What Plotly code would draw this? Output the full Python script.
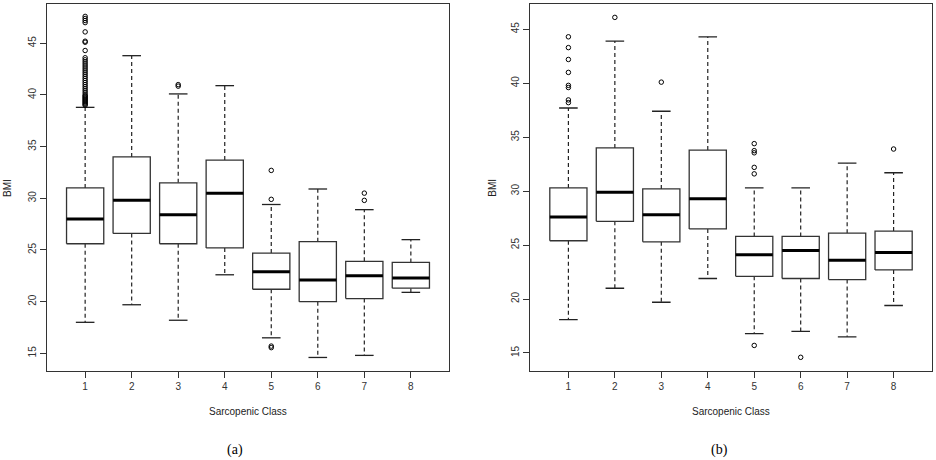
import plotly.graph_objects as go

classes = [1, 2, 3, 4, 5, 6, 7, 8]

# Panel (a)
a_lower = [18.0, 19.7, 18.2, 22.6, 16.5, 14.6, 14.8, 20.9]
a_q1 = [25.6, 26.6, 25.6, 25.2, 21.2, 20.0, 20.3, 21.3]
a_median = [28.0, 29.8, 28.4, 30.5, 22.9, 22.1, 22.5, 22.3]
a_q3 = [31.0, 34.0, 31.5, 33.7, 24.7, 25.8, 23.9, 23.8]
a_upper = [38.8, 43.8, 40.1, 40.9, 29.4, 30.9, 28.9, 26.0]
a_outliers = [
    [47.6, 47.4, 47.2, 47.0, 46.1, 45.2, 45.1, 44.3, 43.6, 43.4, 43.2, 43.0, 42.8,
     42.6, 42.4, 42.2, 42.0, 41.8, 41.6, 41.4, 41.2, 41.0, 40.8, 40.6, 40.4, 40.2,
     40.0, 39.9, 39.8, 39.7, 39.6, 39.5, 39.4, 39.3, 39.2, 39.1, 39.0],
    [],
    [41.0, 40.85],
    [],
    [32.7, 29.9, 15.7, 15.55],
    [],
    [30.5, 29.8],
    [],
]

# Panel (b)
b_lower = [18.1, 21.0, 19.7, 21.9, 16.8, 17.0, 16.5, 19.4]
b_q1 = [25.4, 27.2, 25.3, 26.5, 22.1, 21.9, 21.8, 22.7]
b_median = [27.6, 29.9, 27.8, 29.3, 24.1, 24.5, 23.6, 24.3]
b_q3 = [30.3, 34.0, 30.2, 33.8, 25.8, 25.8, 26.1, 26.3]
b_upper = [37.7, 43.9, 37.4, 44.3, 30.3, 30.3, 32.6, 31.7]
b_outliers = [
    [44.3, 43.3, 42.2, 41.0, 39.8, 39.6, 38.45, 38.2],
    [46.1],
    [40.1],
    [],
    [34.4, 33.75, 33.55, 32.2, 31.6, 15.7],
    [14.6],
    [],
    [33.9],
]

tick_vals_y = [15, 20, 25, 30, 35, 40, 45]

BOX_HALF = 0.4
STAPLE_HALF = 0.2
LINE_COL = "#333333"

fig = go.Figure()


def add_panel(xref, yref, lower, q1, med, q3, upper, outliers):
    bx, by, mx, my, wx, wy, sx, sy, ox, oy = [], [], [], [], [], [], [], [], [], []
    for c, lo, a, m, b, hi, outs in zip(classes, lower, q1, med, q3, upper, outliers):
        bx += [c - BOX_HALF, c + BOX_HALF, c + BOX_HALF, c - BOX_HALF, c - BOX_HALF, None]
        by += [a, a, b, b, a, None]
        mx += [c - BOX_HALF, c + BOX_HALF, None]
        my += [m, m, None]
        wx += [c, c, None, c, c, None]
        wy += [b, hi, None, a, lo, None]
        sx += [c - STAPLE_HALF, c + STAPLE_HALF, None, c - STAPLE_HALF, c + STAPLE_HALF, None]
        sy += [hi, hi, None, lo, lo, None]
        for o in outs:
            ox.append(c)
            oy.append(o)
    common = dict(xaxis=xref, yaxis=yref, showlegend=False, hoverinfo="skip")
    fig.add_trace(go.Scatter(x=wx, y=wy, mode="lines",
                             line=dict(color="#222222", width=1.2, dash="4px,3px"), **common))
    fig.add_trace(go.Scatter(x=sx, y=sy, mode="lines",
                             line=dict(color="#222222", width=1.3), **common))
    fig.add_trace(go.Scatter(x=bx, y=by, mode="lines", fill="toself", fillcolor="white",
                             line=dict(color=LINE_COL, width=1.3), **common))
    fig.add_trace(go.Scatter(x=mx, y=my, mode="lines",
                             line=dict(color="black", width=3), **common))
    fig.add_trace(go.Scatter(x=ox, y=oy, mode="markers",
                             marker=dict(symbol="circle-open", size=4.5, color="black",
                                         line=dict(width=1, color="black")), **common))


add_panel("x", "y", a_lower, a_q1, a_median, a_q3, a_upper, a_outliers)
add_panel("x2", "y2", b_lower, b_q1, b_median, b_q3, b_upper, b_outliers)

W, H = 936, 460
font_ticks = dict(family="Liberation Sans, Arial, sans-serif", size=10, color="#333333")

xcommon = dict(range=[0.18, 8.82], tickvals=classes, ticktext=[str(c) for c in classes],
               ticks="outside", ticklen=6, tickwidth=1, tickcolor="#333333",
               showline=True, linecolor="#333333", linewidth=1, mirror=True,
               showgrid=False, zeroline=False, tickfont=font_ticks, fixedrange=True)
ycommon = dict(tickvals=tick_vals_y, ticktext=[str(v) for v in tick_vals_y],
               ticks="outside", ticklen=6, tickwidth=1, tickcolor="#333333",
               showline=True, linecolor="#333333", linewidth=1, mirror=True,
               showgrid=False, zeroline=False, tickfont=font_ticks, tickangle=-90,
               fixedrange=True)

ybot = (H - 371) / H
ytop = (H - 4) / H

fig.update_layout(
    width=W, height=H,
    margin=dict(l=0, r=0, t=0, b=0),
    paper_bgcolor="white", plot_bgcolor="white",
    xaxis=dict(domain=[47 / W, 449 / W], anchor="y", **xcommon),
    yaxis=dict(domain=[ybot, ytop], anchor="x", range=[13.29, 48.8], **ycommon),
    xaxis2=dict(domain=[530.3 / W, 931.7 / W], anchor="y2", **xcommon),
    yaxis2=dict(domain=[ybot, ytop], anchor="x2", range=[13.33, 47.34], **ycommon),
)

ann_font = dict(family="Liberation Sans, Arial, sans-serif", size=10, color="#222222")
serif_font = dict(family="Liberation Serif, Times New Roman, serif", size=14, color="black")
annotations = [
    dict(text="BMI", x=7 / W, y=(H - 188) / H, textangle=-90, font=ann_font),
    dict(text="BMI", x=491.7 / W, y=(H - 188) / H, textangle=-90, font=ann_font),
    dict(text="Sarcopenic Class", x=248 / W, y=(H - 411.7) / H, font=ann_font),
    dict(text="Sarcopenic Class", x=731 / W, y=(H - 411.7) / H, font=ann_font),
    dict(text="(a)", x=235 / W, y=(H - 450) / H, font=serif_font),
    dict(text="(b)", x=719 / W, y=(H - 450) / H, font=serif_font),
]
for a in annotations:
    a.update(xref="paper", yref="paper", showarrow=False, xanchor="center", yanchor="middle")
fig.update_layout(annotations=annotations)

fig.write_html("out.html", config={"displayModeBar": False},
               post_script="document.body.style.margin='0px';document.body.style.overflow='hidden';")
